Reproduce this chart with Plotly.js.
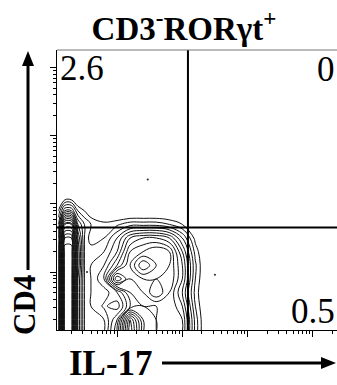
<!DOCTYPE html>
<html>
<head>
<meta charset="utf-8">
<script src="https://cdn.plot.ly/plotly-3.0.1.min.js"></script>
<style>
  html, body { margin: 0; padding: 0; background: #fff; }
  #chart { width: 337px; height: 385px; }
</style>
</head>
<body>
<div id="chart"></div>
<script>
// ---- data (log10 decade units) ----
const chartTitle = 'CD3<sup>-</sup>RORγt<sup>+</sup>';
const xLabel = 'IL-17';
const yLabel = 'CD4';
const quadrantPercents = ['2.6', '0', '0.5'];   // UL, UR, LR
const gateX = 122;   // IL-17 gate
const gateY = 45;    // CD4 gate

const gridXLog = [0.1, 0.2, 0.3, 0.4, 0.5, 0.6, 0.8, 1.0, 1.2, 1.4, 1.6, 1.8, 2.0, 2.2, 2.4];
const gridYLog = [0.1, 0.3, 0.5, 0.7, 0.9, 1.1, 1.3, 1.5, 1.7, 1.9, 2.1, 2.3];
// relative (log) event density, one row per gridYLog value, one column per gridXLog value
const density = [
  [3,   10, 10, 4,   2, 2,   2,   4,   8,   5,   4.5, 5,   4.5, 1.8, 0],
  [3,   10, 10, 4,   2, 2,   2,   3.5, 7.5, 5,   4.5, 5,   4.5, 1.8, 0],
  [3,   10, 10, 4,   2, 2,   2.6, 2.2, 4,   4.5, 4.5, 5,   4,   1.5, 0],
  [3,   10, 10, 4,   2, 2,   2.2, 3,   4.5, 5,   6,   5,   3.5, 1.3, 0],
  [3,   10, 10, 4,   2, 2,   3,   6.5, 5,   5.5, 5.5, 5.5, 4,   1.5, 0],
  [3,   10, 10, 4.5, 2, 2,   2.5, 4,   5.5, 7,   6,   5.5, 4,   1.6, 0],
  [3,   10, 10, 4.5, 2, 1.8, 2,   3,   5,   5.5, 6,   5.5, 3.5, 1.3, 0],
  [2.5, 9,  9,  4,   2, 1.2, 1.5, 2.5, 4,   4.5, 4.5, 4,   2.5, 0.8, 0],
  [2,   7,  7,  3,   2, 1.5, 1.2, 1.4, 1.8, 1.8, 1.8, 1.5, 1,   0,   0],
  [1,   3,  3,  1.5, 1, 0.5, 0,   0,   0,   0,   0,   0,   0,   0,   0],
  [0,   0.5, 0.5, 0, 0, 0,   0,   0,   0,   0,   0,   0,   0,   0,   0],
  [0,   0,  0,  0,   0, 0,   0,   0,   0,   0,   0,   0,   0,   0,   0]
];
// isolated events outside the contours (log units)
const outlierXLog = [1.47, 2.5, 0.54];
const outlierYLog = [2.36, 0.96, 1.0];

// ---- layout geometry ----
const W = 337, H = 385;
const M = {l: 57, r: 0, t: 50, b: 55};
const PW = W - M.l - M.r, PH = H - M.t - M.b;
const px = x => (x - M.l) / PW;
const py = y => (H - M.b - y) / PH;

const toVal = a => a.map(v => Math.pow(10, v));

const serif = 'Liberation Serif';

const traces = [
  {
    type: 'contour',
    x: toVal(gridXLog),
    y: toVal(gridYLog),
    z: density,
    contours: {coloring: 'lines', start: 1, end: 10, size: 0.5},
    line: {width: 1, smoothing: 1.1},
    colorscale: [[0, '#111'], [1, '#111']],
    showscale: false,
    hoverinfo: 'skip'
  },
  {
    type: 'scatter', mode: 'markers',
    x: toVal(outlierXLog), y: toVal(outlierYLog),
    marker: {size: 2, color: '#222'},
    hoverinfo: 'skip'
  }
];

const axisCommon = {
  type: 'log',
  showgrid: false, zeroline: false,
  showticklabels: false,
  ticks: 'outside', ticklen: 6, tickwidth: 1, tickcolor: '#000',
  dtick: 1,
  minor: {ticks: 'outside', ticklen: 3, tickwidth: 1, tickcolor: '#000', showgrid: false},
  showline: true, linecolor: '#000', linewidth: 1
};

const shapes = [
  // quadrant gates
  {type: 'line', xref: 'x', yref: 'paper', x0: gateX, x1: gateX, y0: 0, y1: 1,
   line: {color: '#000', width: 2}},
  {type: 'line', xref: 'paper', yref: 'y', x0: 0, x1: 1, y0: gateY, y1: gateY,
   line: {color: '#000', width: 2}},
  // CD4 arrow
  {type: 'line', xref: 'paper', yref: 'paper', x0: px(28), x1: px(28), y0: py(270), y1: py(62),
   line: {color: '#000', width: 3}},
  {type: 'path', xref: 'paper', yref: 'paper',
   path: `M ${px(28)} ${py(51)} L ${px(22)} ${py(66)} L ${px(34)} ${py(66)} Z`,
   fillcolor: '#000', line: {width: 0}},
  // IL-17 arrow
  {type: 'line', xref: 'paper', yref: 'paper', x0: px(162), x1: px(324), y0: py(363), y1: py(363),
   line: {color: '#000', width: 3}},
  {type: 'path', xref: 'paper', yref: 'paper',
   path: `M ${px(336)} ${py(363)} L ${px(321)} ${py(357)} L ${px(321)} ${py(369)} Z`,
   fillcolor: '#000', line: {width: 0}},
  // top border of the plot frame
  {type: 'line', xref: 'paper', yref: 'paper', x0: 0, x1: 1, y0: 1, y1: 1,
   line: {color: '#777', width: 1}}
];

const pctFont = {family: serif, size: 35, color: '#000'};
const annotations = [
  {xref: 'paper', yref: 'paper', x: px(58), y: py(47), xanchor: 'left', yanchor: 'top',
   text: quadrantPercents[0], showarrow: false, font: pctFont},
  {xref: 'paper', yref: 'paper', x: px(337), y: py(48), xanchor: 'right', yanchor: 'top',
   text: quadrantPercents[1], showarrow: false, font: pctFont},
  {xref: 'paper', yref: 'paper', x: px(337), y: py(333), xanchor: 'right', yanchor: 'bottom',
   text: quadrantPercents[2], showarrow: false, font: pctFont},
  {xref: 'paper', yref: 'paper', x: px(24), y: py(305), xanchor: 'center', yanchor: 'middle',
   text: '<b>' + yLabel + '</b>', textangle: -90, showarrow: false,
   font: {family: serif, size: 31, color: '#000'}},
  {xref: 'paper', yref: 'paper', x: px(111), y: py(363), xanchor: 'center', yanchor: 'middle',
   text: '<b>' + xLabel + '</b>', showarrow: false,
   font: {family: serif, size: 35, color: '#000'}}
];

const layout = {
  width: W, height: H,
  margin: M,
  font: {family: serif},
  paper_bgcolor: '#fff', plot_bgcolor: '#fff',
  showlegend: false,
  title: {
    text: '<b>' + chartTitle + '</b>',
    font: {family: serif, size: 33, color: '#000'},
    xref: 'container', x: 184 / W, xanchor: 'center',
    yref: 'container', y: 1 - 28 / H, yanchor: 'middle'
  },
  xaxis: Object.assign({}, axisCommon, {range: [0.08, 4.37]}),
  yaxis: Object.assign({}, axisCommon, {range: [0.15, 4.26]}),
  shapes: shapes,
  annotations: annotations
};

Plotly.newPlot('chart', traces, layout, {staticPlot: true, displayModeBar: false});
</script>
</body>
</html>
